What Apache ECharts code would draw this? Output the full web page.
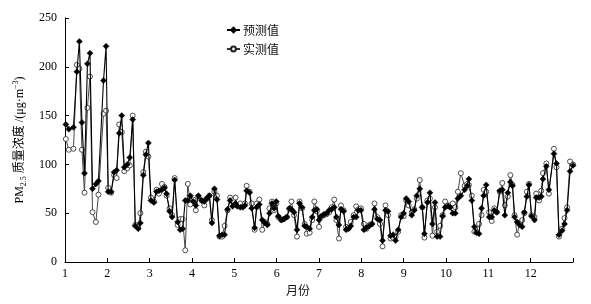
<!DOCTYPE html>
<html><head><meta charset="utf-8">
<script src="https://cdn.jsdelivr.net/npm/echarts@6/dist/echarts.min.js"></script>
<style>html,body{margin:0;padding:0;background:#fff}#c{width:591px;height:304px}</style>
</head><body><div id="c"></div>
<script>
// sample positions (fractional month)
const months = [1.02,1.09,1.20,1.28,1.34,1.40,1.46,1.53,1.59,1.65,1.73,1.79,1.91,1.97,
2.02,2.09,2.16,2.22,2.28,2.34,2.40,2.47,2.53,2.60,2.66,2.73,2.78,2.85,2.91,2.97,
3.03,3.10,3.16,3.22,3.29,3.35,3.40,3.47,3.53,3.59,3.66,3.72,3.78,3.84,3.90,3.96,4.03,4.09,4.15,
4.23,4.29,4.35,4.41,4.47,4.53,4.59,4.65,4.71,4.77,4.84,4.90,4.96,5.03,5.07,5.14,5.20,5.25,5.29,5.36,5.41,5.48,5.53,5.59,
5.66,5.72,5.78,5.83,5.89,5.94,5.99,6.04,6.11,6.17,6.24,6.30,6.35,6.41,6.48,6.54,6.60,6.66,6.71,6.78,
6.84,6.89,6.95,7.00,7.05,7.12,7.18,7.24,7.30,7.36,7.41,7.47,7.52,7.58,7.64,7.70,7.75,7.82,7.88,7.93,
7.99,8.06,8.12,8.19,8.25,8.31,8.38,8.44,8.50,8.57,8.63,8.69,8.75,8.81,8.87,8.94,9.00,9.06,9.12,9.19,
9.25,9.31,9.38,9.44,9.49,9.56,9.62,9.68,9.74,9.79,9.86,9.92,9.98,10.05,10.10,10.16,10.22,10.28,10.35,
10.44,10.50,10.54,10.61,10.67,10.72,10.78,10.84,10.89,10.95,11.02,11.08,11.14,11.20,11.27,11.33,11.39,11.46,11.52,11.57,
11.62,11.68,11.74,11.80,11.85,11.91,11.96,12.02,12.09,12.13,12.20,12.25,12.29,12.37,12.43,12.55,12.61,12.67,12.74,
12.80,12.86,12.93,13.00];

const predicted = [141,136,138,195,226,143,91,203,214,75,80,83,186,221,
72,72,92,94,132,150,97,100,107,146,37,34,40,89,110,122,
63,61,72,73,74,76,70,52,46,84,41,33,34,63,63,68,62,58,68,
63,62,65,68,40,75,64,27,28,28,54,63,57,60,57,56,56,58,73,71,55,35,56,59,
43,40,38,50,60,55,62,47,43,44,46,55,54,51,33,60,56,37,36,34,
46,53,54,43,47,49,50,53,54,56,46,38,54,52,33,34,37,46,46,53,
53,33,35,37,39,54,44,43,22,53,52,27,28,22,33,46,50,65,62,48,
53,68,75,56,29,61,71,39,61,26,26,47,56,57,56,50,50,65,68,
74,78,85,63,36,30,29,55,68,79,46,46,53,51,73,74,48,71,82,78,
46,41,38,36,51,67,79,47,43,66,66,67,85,98,74,111,101,28,32,
39,53,93,99];

const observed = [126,115,116,202,198,115,71,158,190,51,41,69,152,155,
76,71,89,86,141,133,93,96,99,150,38,36,50,92,113,108,
66,62,74,70,80,77,68,55,48,86,38,44,44,12,80,59,64,53,67,
63,58,65,68,43,72,68,26,26,37,53,66,63,66,58,60,57,60,78,72,60,33,60,64,
33,41,39,55,62,53,60,46,43,44,46,54,62,48,26,62,55,39,29,30,
43,62,52,36,46,48,49,51,56,64,43,24,58,53,36,35,41,48,57,54,
55,39,34,38,39,60,46,39,16,58,48,24,25,26,31,48,47,63,58,51,
54,65,84,56,25,63,65,27,56,31,37,48,62,58,58,60,56,72,91,
78,80,79,68,31,31,39,48,74,72,51,42,55,51,72,81,58,67,89,79,
48,28,40,43,50,72,80,48,46,70,63,73,91,101,70,116,97,26,34,
45,56,103,100];

const seriesNames = ['预测值','实测值'];
const xTicks = [1,2,3,4,5,6,7,8,9,10,11,12];

const serif = '"Liberation Serif","Times New Roman","Noto Sans CJK SC",serif';
const chart = echarts.init(document.getElementById('c'), null, {renderer:'canvas'});
chart.setOption({
  animation:false,
  backgroundColor:'#fff',
  grid:{left:65,right:18,top:18,bottom:42},
  legend:{
    orient:'vertical', left:226, top:23, padding:0, itemWidth:13, itemHeight:6, itemGap:5,
    data:seriesNames,
    textStyle:{fontFamily:'"Noto Sans CJK SC",sans-serif',fontSize:12,color:'#111',lineHeight:14,padding:[0,0,0,-2]}
  },
  xAxis:{
    type:'value', min:1, max:13, interval:1,
    name:'月份', nameLocation:'middle', nameGap:22,
    nameTextStyle:{fontFamily:'"Noto Sans CJK SC",sans-serif',fontSize:12,color:'#111',padding:[0,42,0,0]},
    axisLine:{lineStyle:{color:'#000',width:1}},
    axisTick:{inside:true,length:4,lineStyle:{color:'#000'}},
    axisLabel:{margin:6,fontFamily:serif,fontSize:12,color:'#000',
      formatter:v=> xTicks.indexOf(v)>=0 ? String(v) : ''},
    splitLine:{show:false}
  },
  yAxis:{
    type:'value', min:0, max:250, interval:50,
    name:'PM{sub|2.5} 质量浓度 /(μg·m{sup|−3})', nameLocation:'middle', nameRotate:90, nameGap:36,
    nameTextStyle:{fontFamily:serif,fontSize:12,color:'#000',lineHeight:16,
      rich:{sub:{fontSize:8,fontFamily:serif,verticalAlign:'bottom',lineHeight:16},
            sup:{fontSize:8,fontFamily:serif,verticalAlign:'top',lineHeight:16}}},
    axisLine:{show:true,lineStyle:{color:'#000',width:1}},
    axisTick:{show:true,inside:true,length:4,lineStyle:{color:'#000'}},
    axisLabel:{margin:8,fontFamily:serif,fontSize:12,color:'#000'},
    splitLine:{show:false}
  },
  series:[
    {name:seriesNames[1], type:'line', data:months.map((m,i)=>[m,observed[i]]),
     symbol:'circle', symbolSize:5, showAllSymbol:true,
     itemStyle:{color:'#fff',borderColor:'#222',borderWidth:0.8},
     lineStyle:{color:'#333',width:0.9}, z:2},
    {name:seriesNames[0], type:'line', data:months.map((m,i)=>[m,predicted[i]]),
     symbol:'diamond', symbolSize:6, showAllSymbol:true,
     itemStyle:{color:'#000',borderColor:'#000',borderWidth:0.5},
     lineStyle:{color:'#000',width:1.1}, z:3}
  ]
});
</script></body></html>
